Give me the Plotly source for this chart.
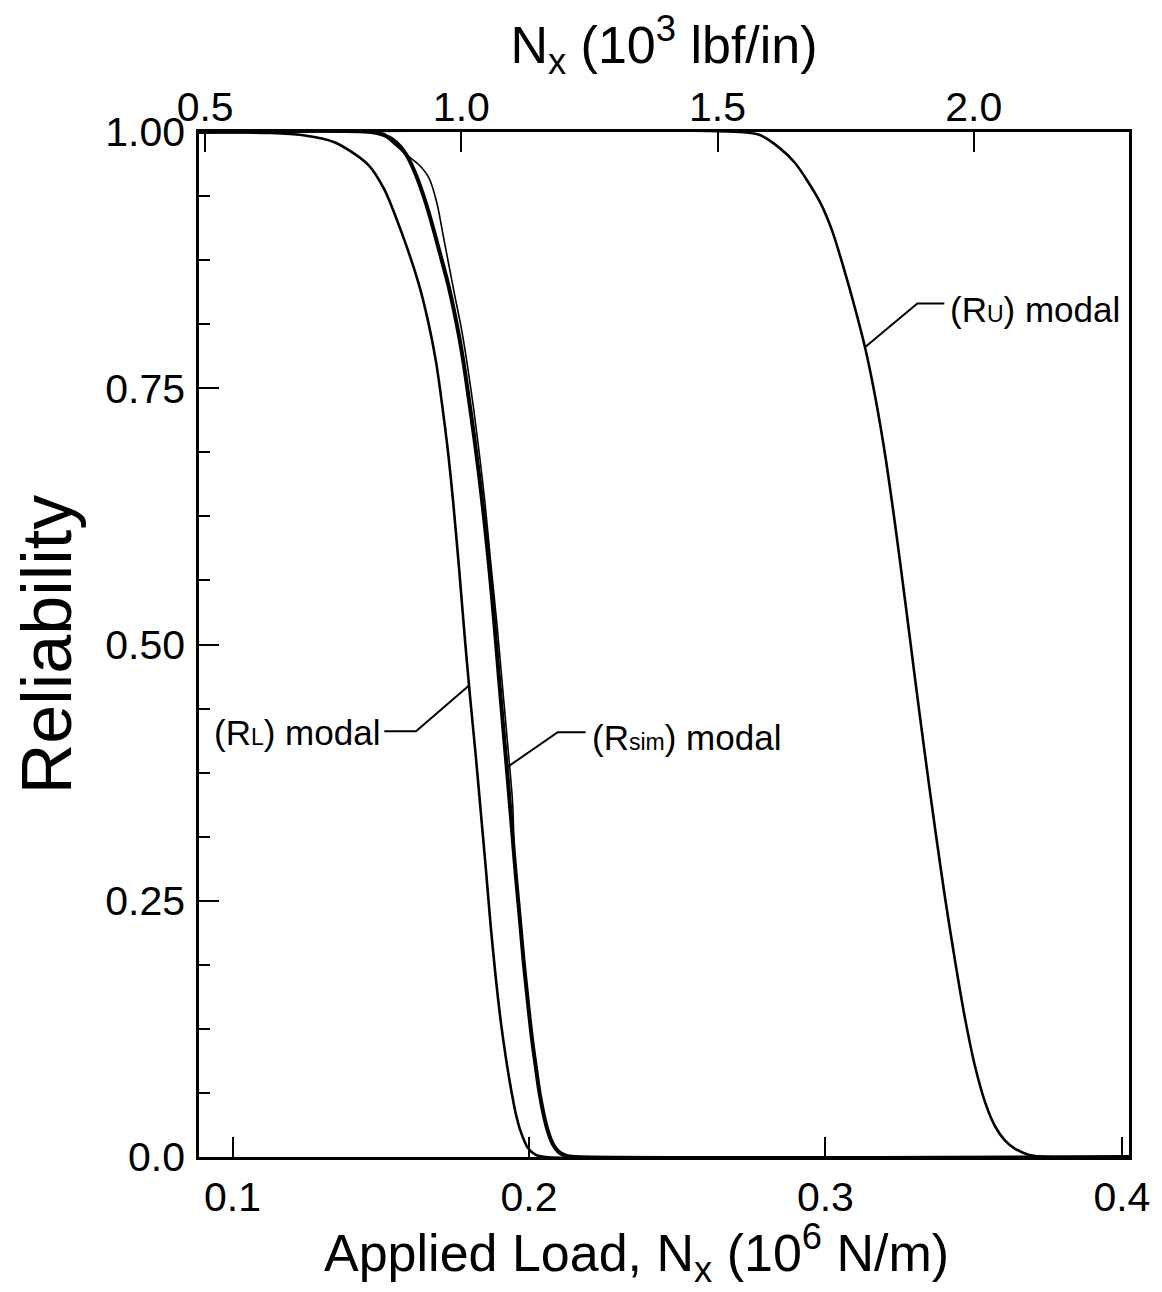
import numpy as np
import plotly.graph_objects as go

# ---------------- data ----------------
# Applied load Nx in 10^6 N/m ; reliability 0..1
rl_x = [0.0887, 0.1132, 0.1233, 0.1344, 0.1458, 0.1512, 0.1569, 0.1626, 0.1660, 0.1687,
        0.1707, 0.1727, 0.1744, 0.1764, 0.1784, 0.1801, 0.1821, 0.1838, 0.1855, 0.1871,
        0.1888, 0.1905, 0.1922, 0.1939, 0.1955, 0.1972, 0.1996, 0.2023, 0.2056, 0.4024]
rl_y = [1.0, 0.999, 0.997, 0.990, 0.968, 0.944, 0.903, 0.854, 0.815, 0.775,
        0.734, 0.688, 0.640, 0.575, 0.505, 0.450, 0.390, 0.335, 0.280, 0.225,
        0.175, 0.132, 0.097, 0.067, 0.043, 0.025, 0.009, 0.002, 0.0, 0.0]

sim_x = [0.0887, 0.1468, 0.1512, 0.1552, 0.1586, 0.1619, 0.1653, 0.1680, 0.1703, 0.1727,
         0.1747, 0.1764, 0.1781, 0.1797, 0.1814, 0.1831, 0.1848, 0.1865, 0.1882, 0.1898,
         0.1915, 0.1929, 0.1942, 0.1955, 0.1969, 0.1982, 0.1996, 0.2009, 0.2023, 0.2036,
         0.2050, 0.2063, 0.2080, 0.2100, 0.2127, 0.2157, 0.4024]
sim_y = [1.0, 1.0, 0.997, 0.990, 0.978, 0.958, 0.930, 0.903, 0.878, 0.852,
         0.826, 0.801, 0.772, 0.740, 0.705, 0.667, 0.625, 0.578, 0.525, 0.470,
         0.413, 0.367, 0.322, 0.277, 0.233, 0.191, 0.152, 0.118, 0.088, 0.062,
         0.041, 0.026, 0.013, 0.005, 0.001, 0.0, 0.0]

# second (thin) simulated strand, just right of the thick bundle
sim2_x = [0.1512, 0.1586, 0.1629, 0.1663, 0.1690, 0.1710, 0.1730, 0.1750, 0.1771, 0.1791,
          0.1811, 0.1831, 0.1851, 0.1871, 0.1892, 0.1912, 0.1929, 0.1945, 0.1950, 0.1956]
sim2_y = [0.997, 0.978, 0.968, 0.955, 0.930, 0.900, 0.870, 0.840, 0.810, 0.775,
          0.735, 0.690, 0.640, 0.580, 0.520, 0.455, 0.400, 0.345, 0.300, 0.270]

ru_x = [0.0887, 0.2712, 0.2779, 0.2843, 0.2897, 0.2940, 0.2981, 0.3021, 0.3061, 0.3098,
        0.3135, 0.3169, 0.3203, 0.3236, 0.3270, 0.3303, 0.3337, 0.3371, 0.3404, 0.3438,
        0.3471, 0.3505, 0.3539, 0.3572, 0.3606, 0.3640, 0.3687, 0.3754, 0.4024]
ru_y = [1.0, 1.0, 0.997, 0.985, 0.970, 0.952, 0.932, 0.905, 0.868, 0.830,
        0.788, 0.740, 0.682, 0.615, 0.540, 0.465, 0.390, 0.318, 0.252, 0.190,
        0.135, 0.088, 0.053, 0.030, 0.016, 0.008, 0.002, 0.0, 0.0]

x_ticks = [0.1, 0.2, 0.3, 0.4]
x_ticklabels = ["0.1", "0.2", "0.3", "0.4"]
x2_ticks = [0.5, 1.0, 1.5, 2.0]
x2_ticklabels = ["0.5", "1.0", "1.5", "2.0"]
y_ticks = [0.0, 0.25, 0.5, 0.75, 1.0]
y_ticklabels = ["0.0", "0.25", "0.50", "0.75", "1.00"]

X_RANGE = [0.0887, 0.4024]     # 10^6 N/m (bottom axis)
X2_RANGE = [0.488, 2.303]      # 10^3 lbf/in (top axis, as drawn in the original)

FONT = "Liberation Sans, Arial, Helvetica, sans-serif"
BLACK = "#000000"

fig = go.Figure()
line_kw = dict(mode="lines", line_shape="spline", hoverinfo="skip")
fig.add_trace(go.Scatter(x=rl_x, y=rl_y, line=dict(color=BLACK, width=2.6, smoothing=0.8),
                         name="(R_L) modal", **line_kw))
fig.add_trace(go.Scatter(x=sim2_x, y=sim2_y, line=dict(color=BLACK, width=1.6, smoothing=0.8),
                         name="sim strand", **line_kw))
fig.add_trace(go.Scatter(x=sim_x, y=sim_y, line=dict(color=BLACK, width=4, smoothing=0.8),
                         name="(R_sim) modal", **line_kw))
fig.add_trace(go.Scatter(x=ru_x, y=ru_y, line=dict(color=BLACK, width=2.6, smoothing=0.8),
                         name="(R_U) modal", **line_kw))
# empty trace so that the secondary (lbf/in) top axis is drawn
fig.add_trace(go.Scatter(x=[], y=[], xaxis="x2", yaxis="y", mode="lines",
                         showlegend=False, hoverinfo="skip"))


def on_curve(xs, ys, y):
    xs = np.asarray(xs); ys = np.asarray(ys)
    return float(np.interp(y, ys[::-1], xs[::-1]))


ann_font = dict(family=FONT, size=35, color=BLACK)
small = "<span style='font-size:23px'>{}</span>"

# leader lines: text end -> bend -> point on curve
leaders = [
    ((0.1512, 0.4154), (0.1619, 0.4154), (on_curve(rl_x, rl_y, 0.460), 0.460)),
    ((0.2191, 0.4144), (0.2097, 0.4144), (on_curve(sim_x, sim_y, 0.380), 0.380)),
    ((0.3401, 0.8327), (0.3310, 0.8327), (on_curve(ru_x, ru_y, 0.790), 0.790)),
]
for p0, p1, p2 in leaders:
    fig.add_shape(type="path",
                  path=f"M {p0[0]} {p0[1]} L {p1[0]} {p1[1]} L {p2[0]} {p2[1]}",
                  xref="x", yref="y", line=dict(color=BLACK, width=2))

fig.add_annotation(x=0.1505, y=0.4144, xref="x", yref="y", xanchor="right", yanchor="middle",
                   text="(R" + small.format("L") + ") modal", showarrow=False, font=ann_font)
fig.add_annotation(x=0.2205, y=0.4090, xref="x", yref="y", xanchor="left", yanchor="middle",
                   text="(R" + small.format("sim") + ") modal", showarrow=False, font=ann_font)
fig.add_annotation(x=0.3412, y=0.8270, xref="x", yref="y", xanchor="left", yanchor="middle",
                   text="(R" + small.format("U") + ") modal", showarrow=False, font=ann_font)

# bottom axis title (placed slightly left of centre, as in the original)
fig.add_annotation(x=0.4705, y=-0.094, xref="paper", yref="paper", xanchor="center",
                   yanchor="middle", showarrow=False,
                   text="Applied Load, N<sub>x</sub> (10<sup>6</sup> N/m)",
                   font=dict(size=52, family=FONT, color=BLACK))

fig.update_layout(
    width=1154, height=1284,
    margin=dict(l=191, r=33, t=124, b=135),
    paper_bgcolor="white", plot_bgcolor="white",
    showlegend=False,
    font=dict(family=FONT, color=BLACK),
    xaxis=dict(range=X_RANGE, tickvals=x_ticks, ticktext=x_ticklabels,
               ticks="inside", ticklen=20, tickwidth=2, tickcolor=BLACK,
               showline=True, linecolor=BLACK, linewidth=2.5, mirror=True,
               showgrid=False, zeroline=False,
               tickfont=dict(size=41, family=FONT), ticklabelstandoff=2),
    xaxis2=dict(overlaying="x", side="top", anchor="y",
                range=X2_RANGE, tickvals=x2_ticks, ticktext=x2_ticklabels,
                ticks="inside", ticklen=20, tickwidth=2, tickcolor=BLACK,
                showline=False, showgrid=False, zeroline=False,
                tickfont=dict(size=41, family=FONT), ticklabelstandoff=2,
                title=dict(text="N<sub>x</sub> (10<sup>3</sup> lbf/in)",
                           font=dict(size=52, family=FONT), standoff=6)),
    yaxis=dict(range=[0, 1], tickvals=y_ticks, ticktext=y_ticklabels,
               ticks="inside", ticklen=20, tickwidth=2, tickcolor=BLACK,
               minor=dict(dtick=0.0625, tick0=0, ticks="inside", ticklen=11,
                          tickwidth=2, tickcolor=BLACK),
               showline=True, linecolor=BLACK, linewidth=2.5, mirror=True,
               showgrid=False, zeroline=False,
               tickfont=dict(size=41, family=FONT), ticklabelstandoff=3,
               title=dict(text="Reliability", font=dict(size=70, family=FONT), standoff=22)),
)

fig.write_html("out.html")
